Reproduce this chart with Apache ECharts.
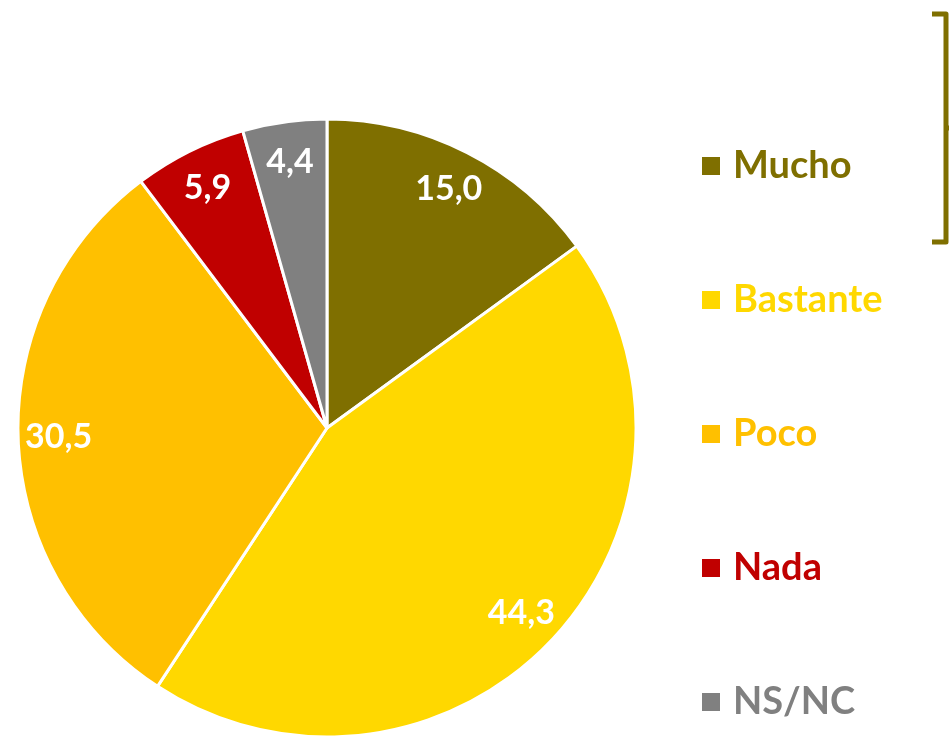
<!DOCTYPE html>
<html>
<head>
<meta charset="utf-8">
<script src="https://cdn.jsdelivr.net/npm/echarts@6/dist/echarts.min.js"></script>
<style>
  html, body { margin: 0; padding: 0; background: #fff; }
  #chart { width: 949px; height: 737px; }
</style>
</head>
<body>
<div id="chart"></div>
<script>
// datos del gráfico
const categories = ["Mucho", "Bastante", "Poco", "Nada", "NS/NC"];
const values = [15.0, 44.3, 30.5, 5.9, 4.4];
const colors = ["#7F6F00", "#FFD800", "#FFC000", "#C00000", "#808080"];

const fontFamily = "Lato, 'Open Sans', sans-serif";

const pieData = categories.map(function (name, i) {
  return { name: name, value: values[i], itemStyle: { color: colors[i] } };
});

const labelData = categories.map(function (name, i) {
  return { name: name, value: values[i] };
});

let myChart = echarts.init(document.getElementById("chart"));
myChart.setOption({
  animation: false,
  legend: {
    orient: "vertical",
    left: 695,
    top: 141,
    icon: "rect",
    itemWidth: 20,
    itemHeight: 20,
    itemGap: 94,
    selectedMode: false,
    textStyle: { fontFamily: fontFamily, fontWeight: "bold", fontSize: 38, lineHeight: 40, padding: [0, 0, 0, 7] },
    data: categories.map(function (name, i) {
      return { name: name, textStyle: { color: colors[i] } };
    })
  },
  graphic: [
    {
      type: "polyline",
      shape: { points: [[932, 14], [946, 14], [946, 242], [932, 242]] },
      style: { stroke: "#7F6F00", lineWidth: 5, fill: null, lineJoin: "round" }
    },
    {
      type: "line",
      shape: { x1: 946, y1: 128, x2: 952, y2: 128 },
      style: { stroke: "#7F6F00", lineWidth: 5 }
    }
  ],
  series: [
    {
      name: "pie",
      type: "pie",
      center: [327, 428],
      radius: [0, 309],
      startAngle: 90,
      clockwise: true,
      silent: true,
      itemStyle: { borderColor: "#fff", borderWidth: 3 },
      label: { show: false },
      labelLine: { show: false },
      data: pieData
    },
    {
      // capa transparente solo para colocar las etiquetas cerca del borde
      name: "labels",
      type: "pie",
      center: [327, 428],
      radius: [222, 309],
      startAngle: 90,
      clockwise: true,
      silent: true,
      itemStyle: { color: "transparent", borderWidth: 0 },
      label: {
        show: true,
        position: "inside",
        color: "#fff",
        fontFamily: fontFamily,
        fontWeight: "bold",
        fontSize: 34,
        formatter: function (p) { return p.value.toFixed(1).replace(".", ","); }
      },
      labelLine: { show: false },
      data: labelData
    }
  ]
});
</script>
</body>
</html>
